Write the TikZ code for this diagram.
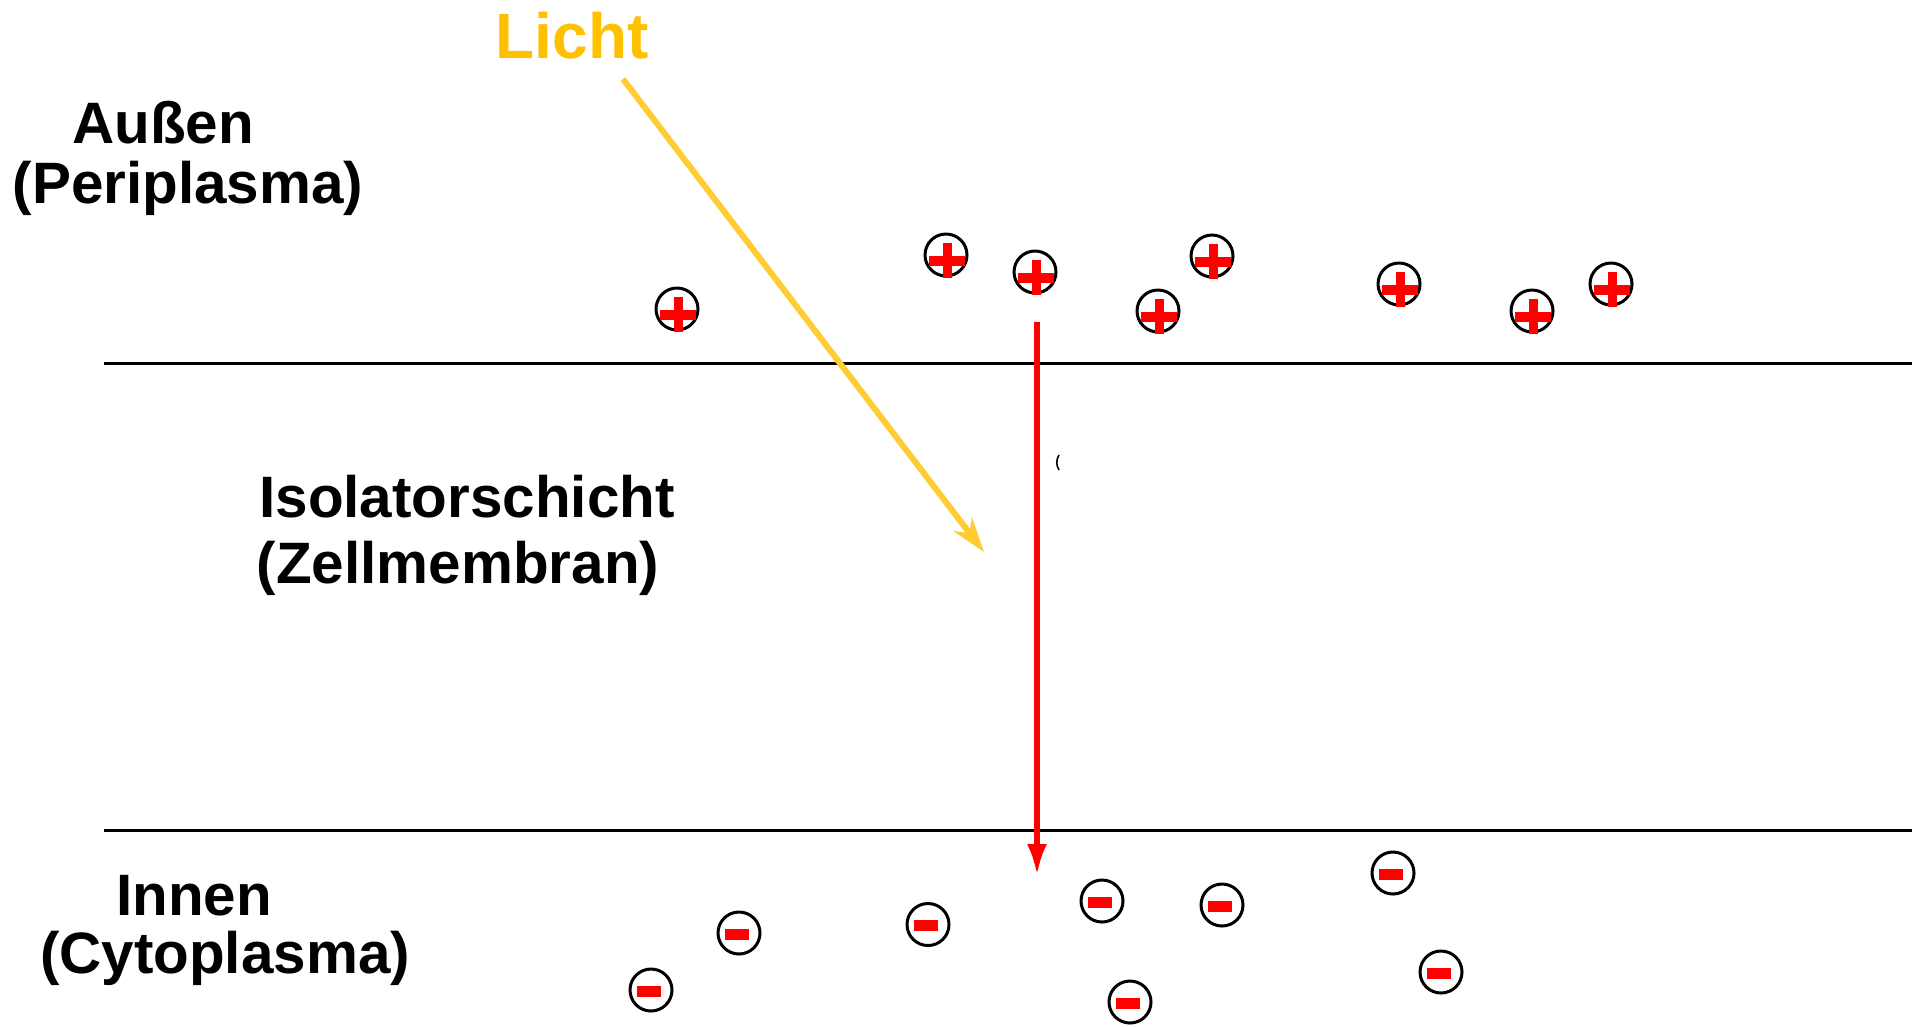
\documentclass[tikz,border=0pt]{standalone}
\usepackage{fontspec}
\setmainfont{Liberation Sans}
\usetikzlibrary{arrows.meta}
\definecolor{lightgold}{HTML}{FFC000}
\definecolor{rayyellow}{HTML}{FFCC33}
\definecolor{chargered}{HTML}{FF0000}
\begin{document}
\begin{tikzpicture}[x=0.75pt,y=-0.75pt,
  lbl/.style={inner sep=0pt, anchor=base, font=\fontsize{43.8}{50}\selectfont\bfseries},
  ionring/.style={circle, draw=black, line width=2.25pt, minimum size=31.5pt, inner sep=0pt},
  charge/.style={fill=chargered},
  membrane/.style={draw=black, line width=2.25pt},
  field/.style={draw=chargered, line width=4.5pt, -{Latex[length=24pt,width=15pt]}},
  ray/.style={draw=rayyellow, line width=4.5pt, -{Stealth[length=26pt,width=17pt,inset=8pt]}}
]
\useasboundingbox (0,0) rectangle (1912,1026);

% membrane boundaries
\coordinate (topL) at (104,363.5);
\coordinate (topR) at (1912,363.5);
\coordinate (botL) at (104,830);
\coordinate (botR) at (1912,830);
\draw[membrane] (topL) -- (topR);
\draw[membrane] (botL) -- (botR);

% region labels
\node[lbl] (outerA) at (163,143) {Außen};
\node[lbl] (outerB) at (188,203) {(Periplasma)};
\node[lbl] (midA) at (467,517) {Isolatorschicht};
\node[lbl] (midB) at (458,583) {(Zellmembran)};
\node[lbl] (innerA) at (194,915) {Innen};
\node[lbl] (innerB) at (225,973) {(Cytoplasma)};
\node[inner sep=0pt, anchor=base, text=lightgold,
      font=\fontsize{48}{56}\selectfont\bfseries] (light) at (572,58) {Licht};

% positive charges outside
\foreach \n/\x/\y in {p1/677/309, p2/946/255, p3/1035/272, p4/1158/311,
                      p5/1212/256, p6/1399/284, p7/1532/311, p8/1611/284} {
  \node[ionring] (\n) at (\x,\y) {};
  \fill[charge] ([shift={(-17,1)}]\n.center) rectangle ([shift={(19,10.5)}]\n.center);
  \fill[charge] ([shift={(-3.5,-12)}]\n.center) rectangle ([shift={(5.5,23)}]\n.center);
}

% negative charges inside
\foreach \n/\x/\y in {m1/651/990, m2/739/933, m3/928/924.5, m4/1102/901,
                      m5/1222/905, m6/1393/873, m7/1441/972, m8/1130/1002} {
  \node[ionring] (\n) at (\x,\y) {};
  \fill[charge] ([shift={(-14,-4.5)}]\n.center) rectangle ([shift={(10,6.5)}]\n.center);
}

% electric field across the membrane
\coordinate (fieldS) at (1037,322);
\coordinate (fieldE) at (1037,876);
\draw[field] (fieldS) -- (fieldE);

% incoming light
\coordinate (rayS) at (623,79);
\coordinate (rayE) at (984,552);
\draw[ray] (rayS) -- (rayE);

% small stray mark
\coordinate (markA) at (1059,455);
\coordinate (markB) at (1059,470);
\draw[line width=1.2pt] (markA) .. controls (1056,460) and (1056,465) .. (markB);
\end{tikzpicture}
\end{document}
